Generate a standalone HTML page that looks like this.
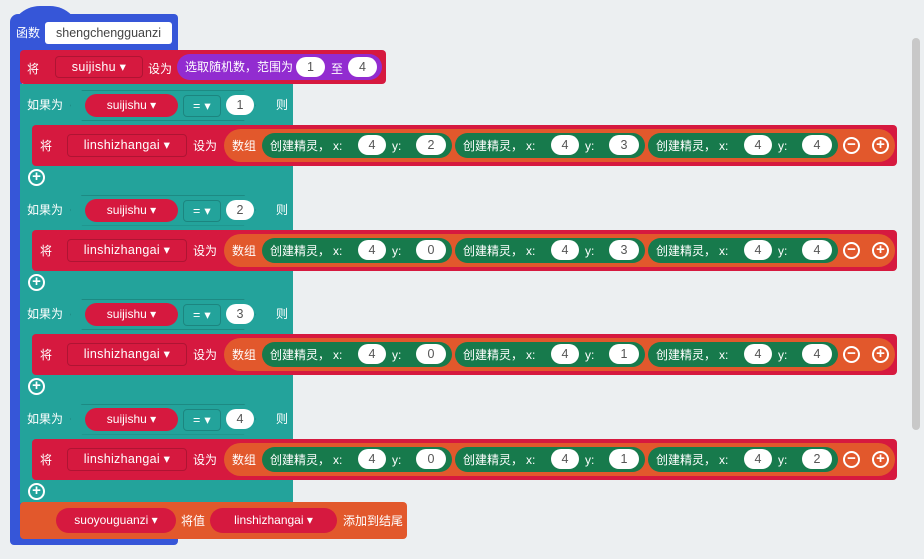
<!DOCTYPE html>
<html><head><meta charset="utf-8"><style>
*{margin:0;padding:0;box-sizing:border-box}
body{width:924px;height:559px;overflow:hidden;background:#eceff1;font-family:"Liberation Sans","Noto Sans CJK SC",sans-serif;color:#fff;font-size:12px;position:relative}
.a{position:absolute}
.t{position:absolute;line-height:16px;white-space:nowrap}
.dd{position:absolute;border:1px solid rgba(0,0,0,.18);border-radius:4px;line-height:20px;text-align:center;font-size:12.5px;letter-spacing:.3px}
.pill{position:absolute;border-radius:14px;line-height:22px;text-align:center}
.w{position:absolute;background:#fff;color:#555;border-radius:11px;text-align:center;line-height:20px;height:20px;font-size:12.5px}
.ifb{position:absolute;left:20px;width:273px;height:105px;background:#23a39b}
.set{position:absolute;left:12px;top:41px;width:865px;height:41px;background:#d6193f;border-radius:4px}
.arr{position:absolute;left:192px;top:4px;width:671px;height:33px;background:#e2582c;border-radius:17px}
.gr{position:absolute;top:4px;width:190px;height:25px;background:#177a4c;border-radius:13px}
.circ{position:absolute;width:17px;height:17px;border:2px solid #fff;border-radius:50%;text-align:center;line-height:12px;font-size:15px;font-weight:bold}
</style></head><body>
<!-- scrollbar -->
<div class="a" style="left:912px;top:38px;width:8px;height:392px;background:#c8c8c8;border-radius:4px"></div>
<!-- function block -->
<div class="a" style="left:10px;top:14px;width:168px;height:40px;background:#3656d8;border-radius:8px 4px 0 0"></div>
<div class="a" style="left:10px;top:6px;width:70px;height:30px;background:#3656d8;border-radius:35px 35px 0 0"></div>
<div class="a" style="left:10px;top:40px;width:12px;height:505px;background:#3656d8;border-radius:0 0 0 6px"></div>
<div class="a" style="left:10px;top:535px;width:168px;height:10px;background:#3656d8;border-radius:0 0 4px 4px"></div>
<div class="t" style="left:16px;top:25px">函数</div>
<div class="a" style="left:45px;top:22px;width:127px;height:22px;background:#fff;border-radius:3px;color:#444;line-height:22px;text-align:center;font-size:12.5px">shengchengguanzi</div>
<!-- set suijishu -->
<div class="a" style="left:20px;top:50px;width:366px;height:34px;background:#d6193f;border-radius:4px"></div>
<div class="t" style="left:27px;top:61px">将</div>
<div class="dd" style="left:55px;top:56px;width:88px;height:22px">suijishu ▾</div>
<div class="t" style="left:148px;top:61px">设为</div>
<div class="pill" style="left:177px;top:54px;width:205px;height:26px;background:#922cd0;line-height:26px;text-align:left;padding-left:8px">选取随机数，范围为</div>
<div class="w" style="left:296px;top:57px;width:29px">1</div>
<div class="t" style="left:331px;top:61px">至</div>
<div class="w" style="left:348px;top:57px;width:29px">4</div>

<!-- IF blocks -->
<div class="ifb" style="top:84px">
 <div class="t" style="left:7px;top:13px">如果为</div>
 <div class="a" style="left:50px;top:6px;width:186px;height:31px;border:1px solid rgba(0,0,0,.15);clip-path:polygon(12px 0,174px 0,100% 50%,174px 100%,12px 100%,0 50%)"></div>
 <div class="pill" style="left:65px;top:10px;width:93px;height:23px;background:#d6193f">suijishu ▾</div>
 <div class="dd" style="left:163px;top:11px;width:38px;height:22px">= ▾</div>
 <div class="w" style="left:206px;top:11px;width:28px">1</div>
 <div class="t" style="left:256px;top:13px">则</div>
 <div class="set">
  <div class="t" style="left:8px;top:13px">将</div>
  <div class="dd" style="left:35px;top:9px;width:120px;height:23px">linshizhangai ▾</div>
  <div class="t" style="left:161px;top:13px">设为</div>
  <div class="arr">
   <div class="t" style="left:8px;top:9px">数组</div>
   <div class="gr" style="left:38px"><div class="t" style="left:8px;top:5px">创建精灵，</div><div class="t" style="left:71px;top:5px">x:</div><div class="w" style="left:96px;top:2px;width:28px">4</div><div class="t" style="left:130px;top:5px">y:</div><div class="w" style="left:154px;top:2px;width:30px">2</div></div>
   <div class="gr" style="left:231px"><div class="t" style="left:8px;top:5px">创建精灵，</div><div class="t" style="left:71px;top:5px">x:</div><div class="w" style="left:96px;top:2px;width:28px">4</div><div class="t" style="left:130px;top:5px">y:</div><div class="w" style="left:154px;top:2px;width:30px">3</div></div>
   <div class="gr" style="left:424px"><div class="t" style="left:8px;top:5px">创建精灵，</div><div class="t" style="left:71px;top:5px">x:</div><div class="w" style="left:96px;top:2px;width:28px">4</div><div class="t" style="left:130px;top:5px">y:</div><div class="w" style="left:154px;top:2px;width:30px">4</div></div>
   <div class="circ" style="left:619px;top:8px">−</div><div class="circ" style="left:648px;top:8px">+</div>
  </div>
 </div>
 <div class="circ" style="left:8px;top:85px">+</div>
</div>

<div class="ifb" style="top:188.5px">
 <div class="t" style="left:7px;top:13px">如果为</div>
 <div class="a" style="left:50px;top:6px;width:186px;height:31px;border:1px solid rgba(0,0,0,.15);clip-path:polygon(12px 0,174px 0,100% 50%,174px 100%,12px 100%,0 50%)"></div>
 <div class="pill" style="left:65px;top:10px;width:93px;height:23px;background:#d6193f">suijishu ▾</div>
 <div class="dd" style="left:163px;top:11px;width:38px;height:22px">= ▾</div>
 <div class="w" style="left:206px;top:11px;width:28px">2</div>
 <div class="t" style="left:256px;top:13px">则</div>
 <div class="set">
  <div class="t" style="left:8px;top:13px">将</div>
  <div class="dd" style="left:35px;top:9px;width:120px;height:23px">linshizhangai ▾</div>
  <div class="t" style="left:161px;top:13px">设为</div>
  <div class="arr">
   <div class="t" style="left:8px;top:9px">数组</div>
   <div class="gr" style="left:38px"><div class="t" style="left:8px;top:5px">创建精灵，</div><div class="t" style="left:71px;top:5px">x:</div><div class="w" style="left:96px;top:2px;width:28px">4</div><div class="t" style="left:130px;top:5px">y:</div><div class="w" style="left:154px;top:2px;width:30px">0</div></div>
   <div class="gr" style="left:231px"><div class="t" style="left:8px;top:5px">创建精灵，</div><div class="t" style="left:71px;top:5px">x:</div><div class="w" style="left:96px;top:2px;width:28px">4</div><div class="t" style="left:130px;top:5px">y:</div><div class="w" style="left:154px;top:2px;width:30px">3</div></div>
   <div class="gr" style="left:424px"><div class="t" style="left:8px;top:5px">创建精灵，</div><div class="t" style="left:71px;top:5px">x:</div><div class="w" style="left:96px;top:2px;width:28px">4</div><div class="t" style="left:130px;top:5px">y:</div><div class="w" style="left:154px;top:2px;width:30px">4</div></div>
   <div class="circ" style="left:619px;top:8px">−</div><div class="circ" style="left:648px;top:8px">+</div>
  </div>
 </div>
 <div class="circ" style="left:8px;top:85px">+</div>
</div>

<div class="ifb" style="top:293px">
 <div class="t" style="left:7px;top:13px">如果为</div>
 <div class="a" style="left:50px;top:6px;width:186px;height:31px;border:1px solid rgba(0,0,0,.15);clip-path:polygon(12px 0,174px 0,100% 50%,174px 100%,12px 100%,0 50%)"></div>
 <div class="pill" style="left:65px;top:10px;width:93px;height:23px;background:#d6193f">suijishu ▾</div>
 <div class="dd" style="left:163px;top:11px;width:38px;height:22px">= ▾</div>
 <div class="w" style="left:206px;top:11px;width:28px">3</div>
 <div class="t" style="left:256px;top:13px">则</div>
 <div class="set">
  <div class="t" style="left:8px;top:13px">将</div>
  <div class="dd" style="left:35px;top:9px;width:120px;height:23px">linshizhangai ▾</div>
  <div class="t" style="left:161px;top:13px">设为</div>
  <div class="arr">
   <div class="t" style="left:8px;top:9px">数组</div>
   <div class="gr" style="left:38px"><div class="t" style="left:8px;top:5px">创建精灵，</div><div class="t" style="left:71px;top:5px">x:</div><div class="w" style="left:96px;top:2px;width:28px">4</div><div class="t" style="left:130px;top:5px">y:</div><div class="w" style="left:154px;top:2px;width:30px">0</div></div>
   <div class="gr" style="left:231px"><div class="t" style="left:8px;top:5px">创建精灵，</div><div class="t" style="left:71px;top:5px">x:</div><div class="w" style="left:96px;top:2px;width:28px">4</div><div class="t" style="left:130px;top:5px">y:</div><div class="w" style="left:154px;top:2px;width:30px">1</div></div>
   <div class="gr" style="left:424px"><div class="t" style="left:8px;top:5px">创建精灵，</div><div class="t" style="left:71px;top:5px">x:</div><div class="w" style="left:96px;top:2px;width:28px">4</div><div class="t" style="left:130px;top:5px">y:</div><div class="w" style="left:154px;top:2px;width:30px">4</div></div>
   <div class="circ" style="left:619px;top:8px">−</div><div class="circ" style="left:648px;top:8px">+</div>
  </div>
 </div>
 <div class="circ" style="left:8px;top:85px">+</div>
</div>

<div class="ifb" style="top:397.5px">
 <div class="t" style="left:7px;top:13px">如果为</div>
 <div class="a" style="left:50px;top:6px;width:186px;height:31px;border:1px solid rgba(0,0,0,.15);clip-path:polygon(12px 0,174px 0,100% 50%,174px 100%,12px 100%,0 50%)"></div>
 <div class="pill" style="left:65px;top:10px;width:93px;height:23px;background:#d6193f">suijishu ▾</div>
 <div class="dd" style="left:163px;top:11px;width:38px;height:22px">= ▾</div>
 <div class="w" style="left:206px;top:11px;width:28px">4</div>
 <div class="t" style="left:256px;top:13px">则</div>
 <div class="set">
  <div class="t" style="left:8px;top:13px">将</div>
  <div class="dd" style="left:35px;top:9px;width:120px;height:23px">linshizhangai ▾</div>
  <div class="t" style="left:161px;top:13px">设为</div>
  <div class="arr">
   <div class="t" style="left:8px;top:9px">数组</div>
   <div class="gr" style="left:38px"><div class="t" style="left:8px;top:5px">创建精灵，</div><div class="t" style="left:71px;top:5px">x:</div><div class="w" style="left:96px;top:2px;width:28px">4</div><div class="t" style="left:130px;top:5px">y:</div><div class="w" style="left:154px;top:2px;width:30px">0</div></div>
   <div class="gr" style="left:231px"><div class="t" style="left:8px;top:5px">创建精灵，</div><div class="t" style="left:71px;top:5px">x:</div><div class="w" style="left:96px;top:2px;width:28px">4</div><div class="t" style="left:130px;top:5px">y:</div><div class="w" style="left:154px;top:2px;width:30px">1</div></div>
   <div class="gr" style="left:424px"><div class="t" style="left:8px;top:5px">创建精灵，</div><div class="t" style="left:71px;top:5px">x:</div><div class="w" style="left:96px;top:2px;width:28px">4</div><div class="t" style="left:130px;top:5px">y:</div><div class="w" style="left:154px;top:2px;width:30px">2</div></div>
   <div class="circ" style="left:619px;top:8px">−</div><div class="circ" style="left:648px;top:8px">+</div>
  </div>
 </div>
 <div class="circ" style="left:8px;top:85px">+</div>
</div>

<!-- add to end -->
<div class="a" style="left:20px;top:502px;width:387px;height:37px;background:#e2582c;border-radius:4px"></div>
<div class="pill" style="left:56px;top:508px;width:120px;height:25px;background:#d6193f;line-height:25px">suoyouguanzi ▾</div>
<div class="t" style="left:181px;top:513px">将值</div>
<div class="pill" style="left:210px;top:508px;width:127px;height:25px;background:#d6193f;line-height:25px">linshizhangai ▾</div>
<div class="t" style="left:343px;top:513px">添加到结尾</div>
</body></html>
